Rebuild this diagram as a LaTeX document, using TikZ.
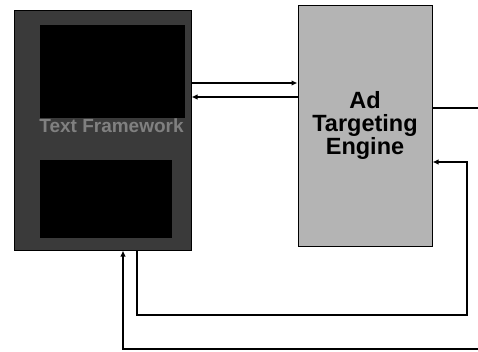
\documentclass[tikz,border=0pt]{standalone}
\usepackage{fontspec}
\setmainfont{Liberation Sans}
\usetikzlibrary{arrows.meta,calc}
\definecolor{shadow}{HTML}{3A3A3A}
\definecolor{haze}{HTML}{B4B4B4}

\begin{document}
\begin{tikzpicture}[x=1pt,y=-1pt,line cap=butt,line join=miter,>=Latex]
  \tikzset{
    block/.style={draw=black,line width=1pt,inner sep=0pt},
    flow/.style={line width=1.4pt,draw=black},
    tip/.style={flow,-{Latex[length=6pt,width=5.5pt]}}
  }
  \useasboundingbox (0,0) rectangle (478,351);

  % Left: dark framework box with its two inner panels.
  \node[block,fill=shadow,minimum width=177pt,minimum height=240pt]
    (framework) at (102.5,130) {};
  \node[inner sep=0pt,fill=black,minimum width=145pt,minimum height=93pt]
    (upper) at (112.5,71.5) {};
  \node[inner sep=0pt,fill=black,minimum width=132pt,minimum height=78pt]
    (lower) at (106,199) {};
  \node[font=\bfseries\fontsize{19}{21}\selectfont,text=black!50]
    (label) at (111.5,126) {Text Framework};

  % Right: ad targeting engine.
  \node[block,fill=haze,minimum width=134pt,minimum height=241pt,
    align=center,font=\bfseries\fontsize{23.5}{23}\selectfont]
    (engine) at (365,125.5) {Ad\\Targeting\\Engine};

  % Connectors between the two boxes.
  \coordinate (r1) at (0,83);
  \coordinate (r2) at (0,97);
  \draw[tip] (framework.east |- r1) -- (engine.west |- r1);
  \draw[tip] (engine.west |- r2) -- (framework.east |- r2);

  % Output leaving the engine to the right.
  \coordinate (out) at (478,108);
  \draw[flow] (engine.east |- out) -- (out);

  % Loop from the framework back into the engine.
  \coordinate (f1) at (137,315);
  \coordinate (f2) at (467,315);
  \coordinate (f3) at (467,162);
  \draw[tip] (framework.south -| f1) -- (f1) -- (f2) -- (f3) -- (engine.east |- f3);

  % Input coming back into the framework from the right.
  \coordinate (g1) at (123,349);
  \coordinate (g2) at (478,349);
  \draw[tip] (g2) -- (g1) -- (framework.south -| g1);
\end{tikzpicture}
\end{document}
